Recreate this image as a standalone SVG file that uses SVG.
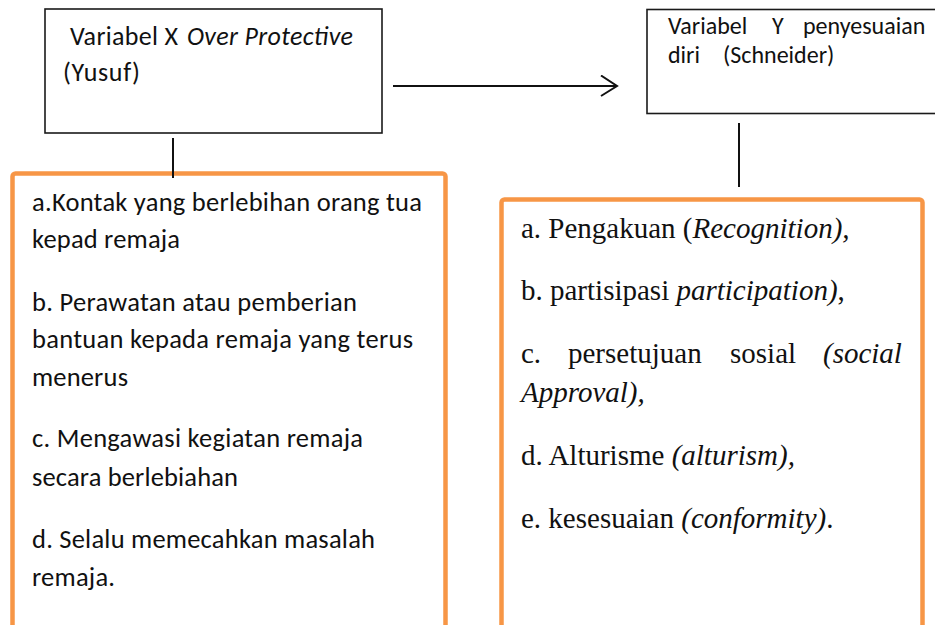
<svg xmlns="http://www.w3.org/2000/svg" width="935" height="625" viewBox="0 0 935 625">
  <defs>
    <style>
      .box { fill: #ffffff; stroke: #1a1a1a; stroke-width: 1.6; }
      .obox { fill: #ffffff; stroke: #F79646; stroke-width: 4.5; }
      .sans { font-family: Carlito, Lato, "Open Sans", sans-serif; fill: #111111; }
      .lst { font-size: 26.5px; }
      .hx { font-size: 26px; }
      .hy { font-size: 24px; }
      .serif { font-family: "Liberation Serif", "Times New Roman", serif; font-size: 29px; fill: #111111; }
      .it { font-style: italic; }
      .conn { stroke: #111111; stroke-width: 2; fill: none; }
    </style>
    <marker id="chev" viewBox="0 0 20 24" refX="17" refY="11" markerWidth="20" markerHeight="24" markerUnits="userSpaceOnUse" orient="auto">
      <path d="M1,0.5 L17,11 L1,21" fill="none" stroke="#111111" stroke-width="2"/>
    </marker>
  </defs>

  <g id="node-x">
    <rect class="box" x="45" y="9" width="337" height="124"/>
    <text class="sans hx" x="70" y="45" textLength="108" lengthAdjust="spacing">Variabel X</text>
    <text class="sans hx it" x="187" y="45" textLength="166" lengthAdjust="spacing">Over Protective</text>
    <text class="sans hx" x="63" y="81" textLength="77" lengthAdjust="spacing">(Yusuf)</text>
  </g>

  <g id="node-y">
    <rect class="box" x="647" y="9.5" width="300" height="104"/>
    <text class="sans hy" x="668" y="34">Variabel</text>
    <text class="sans hy" x="772" y="34">Y</text>
    <text class="sans hy" x="803" y="34">penyesuaian</text>
    <text class="sans hy" x="668" y="63">diri</text>
    <text class="sans hy" x="723" y="63">(Schneider)</text>
  </g>

  <g id="node-x-indicators">
    <rect class="obox" x="12.5" y="173.5" width="433" height="500" rx="3"/>
    <text class="sans lst" x="32" y="211" textLength="390" lengthAdjust="spacing">a.Kontak yang berlebihan orang tua</text>
    <text class="sans lst" x="32" y="248" textLength="148" lengthAdjust="spacing">kepad remaja</text>
    <text class="sans lst" x="32" y="311" textLength="325" lengthAdjust="spacing">b. Perawatan atau pemberian</text>
    <text class="sans lst" x="32" y="348" textLength="381" lengthAdjust="spacing">bantuan kepada remaja yang terus</text>
    <text class="sans lst" x="32" y="386" textLength="96" lengthAdjust="spacing">menerus</text>
    <text class="sans lst" x="32" y="447" textLength="331" lengthAdjust="spacing">c. Mengawasi kegiatan remaja</text>
    <text class="sans lst" x="32" y="486" textLength="206" lengthAdjust="spacing">secara berlebiahan</text>
    <text class="sans lst" x="32" y="548" textLength="343" lengthAdjust="spacing">d. Selalu memecahkan masalah</text>
    <text class="sans lst" x="32" y="586" textLength="83" lengthAdjust="spacing">remaja.</text>
  </g>

  <g id="node-y-indicators">
    <rect class="obox" x="501.5" y="199.5" width="421" height="500" rx="3"/>
    <text class="serif" x="521" y="238">a. Pengakuan (<tspan class="it">Recognition),</tspan></text>
    <text class="serif" x="521" y="300">b. partisipasi <tspan class="it">participation)</tspan>,</text>
    <text class="serif" x="521" y="363">c.</text>
    <text class="serif" x="568" y="363">persetujuan</text>
    <text class="serif" x="730" y="363">sosial</text>
    <text class="serif it" x="823" y="363">(social</text>
    <text class="serif it" x="521" y="402">Approval),</text>
    <text class="serif" x="521" y="465">d. Alturisme <tspan class="it">(alturism),</tspan></text>
    <text class="serif" x="521" y="528">e. kesesuaian <tspan class="it">(conformity)</tspan>.</text>
  </g>

  <g id="connectors">
    <line class="conn" x1="393" y1="86" x2="617" y2="86" marker-end="url(#chev)"/>
    <line class="conn" x1="173" y1="138" x2="173" y2="178"/>
    <line class="conn" x1="739" y1="123" x2="739" y2="187"/>
  </g>
</svg>
